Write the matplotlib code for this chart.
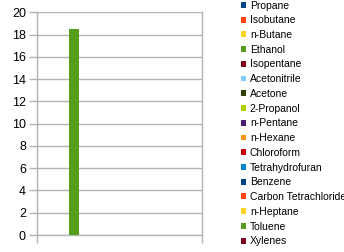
import numpy as np
from matplotlib import pyplot as plt

# data
solvents = ['Propane', 'Isobutane', 'n-Butane', 'Ethanol', 'Isopentane',
            'Acetonitrile', 'Acetone', '2-Propanol', 'n-Pentane', 'n-Hexane',
            'Chloroform', 'Tetrahydrofuran', 'Benzene', 'Carbon Tetrachloride',
            'n-Heptane', 'Toluene', 'Xylenes']
values = [0, 0, 0, 18.5, 0, 0, 0, 0, 0, 0, 0, 0, 0, 0, 0, 0, 0]
colors = ['#004586', '#ff420e', '#ffd320', '#579d1c', '#7e0021', '#83caff',
          '#314004', '#aecf00', '#4b1f6f', '#ff950e', '#c5000b', '#0084d1',
          '#004586', '#ff420e', '#ffd320', '#579d1c', '#7e0021']

plt.rcParams['font.family'] = ['Liberation Sans', 'DejaVu Sans']
grey = '#b3b3b3'

fig = plt.figure(figsize=(3.44, 2.52), dpi=100)
W, H = 344.0, 252.0
ax = fig.add_axes([37 / W, (H - 235) / H, 165 / W, (235 - 12.4) / H])

# one category, bars side by side
bw = 10 / 165.0
x0 = (74 - 37) / 165.0 - 3 * bw
for i, (name, v, c) in enumerate(zip(solvents, values, colors)):
    ax.bar(x0 + i * bw, v, bw, color=c, linewidth=0, label=name, zorder=3)

ax.set_xlim(0, 1)
ax.set_ylim(0, 20)
ax.set_yticks(np.arange(0, 21, 2))
ax.set_xticks([0, 1])
ax.set_xticklabels(['', ''])
ax.yaxis.grid(True, color=grey, linewidth=1, zorder=0)
ax.set_axisbelow(True)
for s in ['left', 'bottom', 'right']:
    ax.spines[s].set_color(grey)
    ax.spines[s].set_linewidth(1)
ax.spines['top'].set_visible(False)
ax.tick_params(axis='both', color=grey, length=6, width=1, direction='out')
ax.tick_params(axis='y', labelsize=9, pad=2, labelcolor='#000000')

leg = ax.legend(loc='upper left', bbox_to_anchor=(240 / W, 1.0),
                bbox_transform=fig.transFigure, frameon=False, fontsize=7.5,
                handlelength=0.5, handleheight=0.5, handletextpad=0.4,
                labelspacing=0.455, borderpad=0.05, borderaxespad=0)

fig.savefig('out.png', dpi=100)
